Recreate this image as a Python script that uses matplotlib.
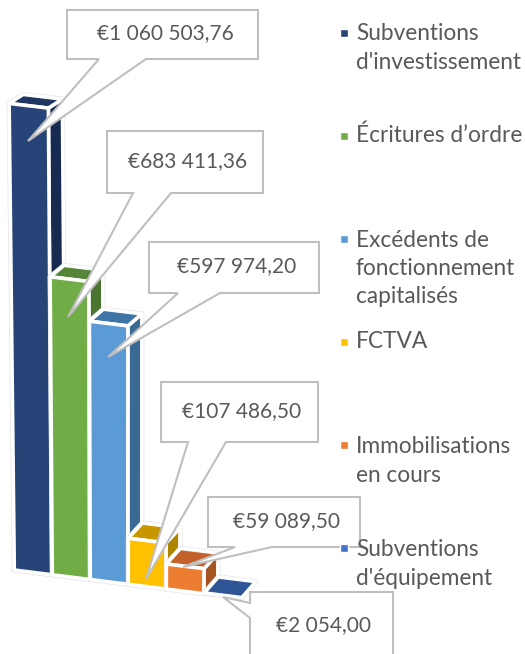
import matplotlib
matplotlib.use("Agg")
import matplotlib.pyplot as plt
from matplotlib.patches import Polygon

plt.rcParams['font.family'] = ['Lato', 'DejaVu Sans']

categories = ["Subventions\nd'investissement", "Écritures d’ordre",
              "Excédents de\nfonctionnement\ncapitalisés", "FCTVA",
              "Immobilisations\nen cours", "Subventions\nd'équipement"]
values = [1060503.76, 683411.36, 597974.20, 107486.50, 59089.50, 2054.00]
value_labels = ["€1 060 503,76", "€683 411,36", "€597 974,20",
                "€107 486,50", "€59 089,50", "€2 054,00"]

front_colors = ['#264478', '#70AD47', '#5B9BD5', '#FFC000', '#ED7D31', '#2F5597']
side_colors = ['#172B52', '#4A7430', '#396A94', '#AD8500', '#A35420', '#2F5597']
top_colors = ['#1E3660', '#558537', '#3F75A6', '#C79600', '#C2622A', '#2F5597']
legend_colors = ['#264478', '#70AD47', '#5B9BD5', '#FFC000', '#ED7D31', '#4472C4']

# callouts: box left, top, right, bottom, wedge start, wedge end, tip x, tip y
callouts = [
    (67, 10, 258, 59, 99, 146, 28, 141),
    (107, 131, 263, 193, 133, 171, 68, 317),
    (149, 242, 319, 293, 178, 220, 108, 357),
    (161, 382, 318, 442, 188, 226, 146, 579),
    (208, 497, 360, 547, 235, 272, 183, 567),
]
legend_y = [33, 136, 239, 342, 445, 548]
text_y = [48, 135, 268.5, 341, 461, 564]

BAR_X0 = 14.3
BAR_STEP = 38
BAR_W = 37.5
MAX_VALUE = max(values)


def height_px(i, v):
    return v * (0.00044 - 0.000004 * i)


def point(x0, h):
    # slanted floor, and the walls lean away from a vanishing point
    base = 570 + (x0 - 14) * 0.125
    return x0 + (x0 - 125) * h * 1.0e-4, base - h


def faces(i, v):
    h = height_px(i, v)
    left = BAR_X0 + BAR_STEP * i
    x1, y1 = point(left, h)
    x2, y2 = point(left + BAR_W, h)
    x3, y3 = point(left + BAR_W, 0)
    x4, y4 = point(left, 0)
    dx = 14
    dy = -16 + 7 * v / MAX_VALUE
    front = [(x1, y1), (x2, y2), (x3, y3), (x4, y4)]
    top = [(x1, y1), (x1 + dx, y1 + dy), (x2 + dx, y2 + dy), (x2, y2)]
    side = [(x2, y2), (x2 + dx, y2 + dy), (x3 + dx, y3 + dy), (x3, y3)]
    return front, side, top


fig = plt.figure(figsize=(5.25, 6.54), dpi=100)
ax = fig.add_axes([0, 0, 1, 1])
ax.set_xlim(0, 525)
ax.set_ylim(654, 0)
ax.axis('off')

# floor edge
x_a, y_a = point(12, 0)
x_b, y_b = point(225, 0)
ax.plot([x_a, x_b], [y_a + 1, y_b + 1], color='#E6E6E6', lw=1.2, zorder=1)

for i, v in enumerate(values):
    front, side, top = faces(i, v)
    z = 2 + i
    if v / MAX_VALUE < 0.01:
        # almost nothing above the floor: only the top face shows
        ax.add_patch(Polygon(top, closed=True, fc=top_colors[i], ec='#E6E6E6', lw=3.6, joinstyle='round', zorder=z))
        ax.add_patch(Polygon(top, closed=True, fc=top_colors[i], ec='white', lw=2.6, joinstyle='round', zorder=z))
        continue
    for poly, col in [(side, side_colors[i]), (top, top_colors[i]), (front, front_colors[i])]:
        ax.add_patch(Polygon(poly, closed=True, fc=col, ec='#E6E6E6', lw=3.6, joinstyle='round', zorder=z))
    for poly, col in [(side, side_colors[i]), (top, top_colors[i]), (front, front_colors[i])]:
        ax.add_patch(Polygon(poly, closed=True, fc=col, ec='white', lw=2.6, joinstyle='round', zorder=z))

for i, (l, t, r, b, w1, w2, tx, ty) in enumerate(callouts):
    pts = [(l, t), (r, t), (r, b), (w2, b), (tx, ty), (w1, b), (l, b)]
    ax.add_patch(Polygon(pts, closed=True, fc='white', ec='#BFBFBF', lw=1.5, zorder=10))
    ax.text((l + r) / 2 + 2.5, (t + b) / 2 - 1, value_labels[i], fontsize=15, color='#595959',
            ha='center', va='center', zorder=11)

# last label sits under the floor, left-side wedge, cut by the image edge
l, t, r, b, ty1, ty2, tx, ty = 250, 592, 393, 664, 603, 618, 223, 597
pts = [(l, t), (r, t), (r, b), (l, b), (l, ty2), (tx, ty), (l, ty1)]
ax.add_patch(Polygon(pts, closed=True, fc='white', ec='#BFBFBF', lw=1.5, zorder=10))
ax.text((l + r) / 2 + 2.5, 625, value_labels[5], fontsize=15, color='#595959', ha='center', va='center', zorder=11)

for i, cat in enumerate(categories):
    ax.plot([344], [legend_y[i]], marker='s', ms=6.3, mfc=legend_colors[i], mec='white', mew=1.0, zorder=12)
    ax.text(356, text_y[i], cat, fontsize=16.3, color='#595959', ha='left', va='center',
            linespacing=1.42, zorder=12)

fig.savefig('out.png', dpi=100)
